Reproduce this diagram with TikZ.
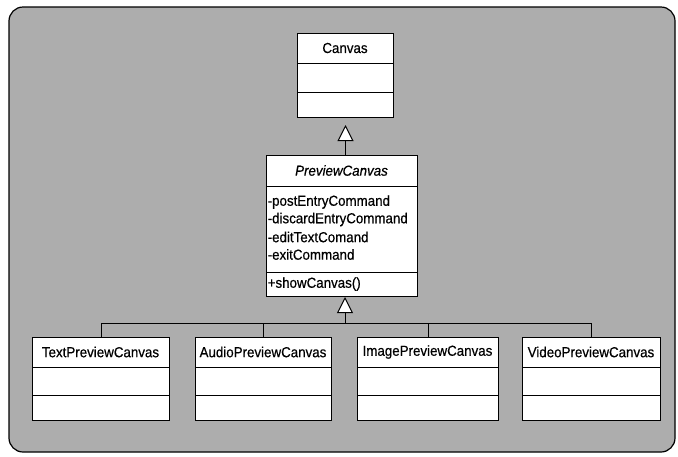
\documentclass[tikz,border=0pt]{standalone}
\usepackage{fontspec}
\setmainfont{Liberation Sans}[FakeStretch=0.92, FakeBold=0.5]
\usetikzlibrary{arrows.meta}
\begin{document}
\begin{tikzpicture}[x=1pt, y=-1pt,
  frame/.style={draw=black, fill=black!32, line width=1.2pt, rounded corners=14pt},
  classbox/.style={draw=black, fill=white, line width=1pt, inner sep=0pt, anchor=north west},
  sep/.style={draw=black, line width=1pt},
  txt/.style={font=\fontsize{14.5}{17}\selectfont, inner sep=0pt},
  member/.style={txt, anchor=west},
  link/.style={draw=black, line width=1pt},
  gen/.style={link, -{Triangle[length=16pt, width=16pt, fill=white]}}
]
\useasboundingbox (0,0) rectangle (678,456);
\path[frame] (9,7) rectangle (675,452);

% Canvas
\node[classbox, minimum width=96, minimum height=84] (canvas) at (297,33) {};
\path[sep] (canvas.west |- 0,63) -- (canvas.east |- 0,63);
\path[sep] (canvas.west |- 0,92) -- (canvas.east |- 0,92);
\node[txt] (canvasname) at (345,48) {Canvas};

% PreviewCanvas (abstract)
\node[classbox, minimum width=151, minimum height=141] (preview) at (266,155) {};
\path[sep] (preview.west |- 0,186) -- (preview.east |- 0,186);
\path[sep] (preview.west |- 0,272) -- (preview.east |- 0,272);
\node[txt, font=\fontsize{14.5}{17}\selectfont\itshape] (previewname) at (341.5,170.5) {PreviewCanvas};
\node[member] (m1) at (267.5,202) {-postEntryCommand};
\node[member] (m2) at (267.5,219.5) {-discardEntryCommand};
\node[member] (m3) at (267.5,237) {-editTextComand};
\node[member] (m4) at (267.5,254.5) {-exitCommand};
\node[member] (op1) at (267.5,284) {+showCanvas()};

% Subclasses
\node[classbox, minimum width=137, minimum height=83] (textp) at (32,337) {};
\node[classbox, minimum width=136, minimum height=83] (audiop) at (195,337) {};
\node[classbox, minimum width=141, minimum height=83] (imagep) at (357,337) {};
\node[classbox, minimum width=138, minimum height=83] (videop) at (522,337) {};
\foreach \b in {textp, audiop, imagep, videop} {
  \path[sep] (\b.west |- 0,367) -- (\b.east |- 0,367);
  \path[sep] (\b.west |- 0,395.5) -- (\b.east |- 0,395.5);
}
\node[txt] (textname) at (100.5,352) {TextPreviewCanvas};
\node[txt] (audioname) at (263,352) {AudioPreviewCanvas};
\node[txt] (imagename) at (427.5,352) {ImagePreviewCanvas};
\node[txt] (videoname) at (591,352) {VideoPreviewCanvas};

% Generalization links
\coordinate (bus) at (345,323);
\path[gen, shorten >=7pt] (canvas.south |- preview.north) -- (canvas.south);
\path[gen] (bus) -- (bus |- preview.south);
\path[link] (textp.north) -- (textp.north |- bus) -- (videop.north |- bus) -- (videop.north);
\path[link] (audiop.north) -- (audiop.north |- bus);
\path[link] (imagep.north) -- (imagep.north |- bus);
\end{tikzpicture}
\end{document}
